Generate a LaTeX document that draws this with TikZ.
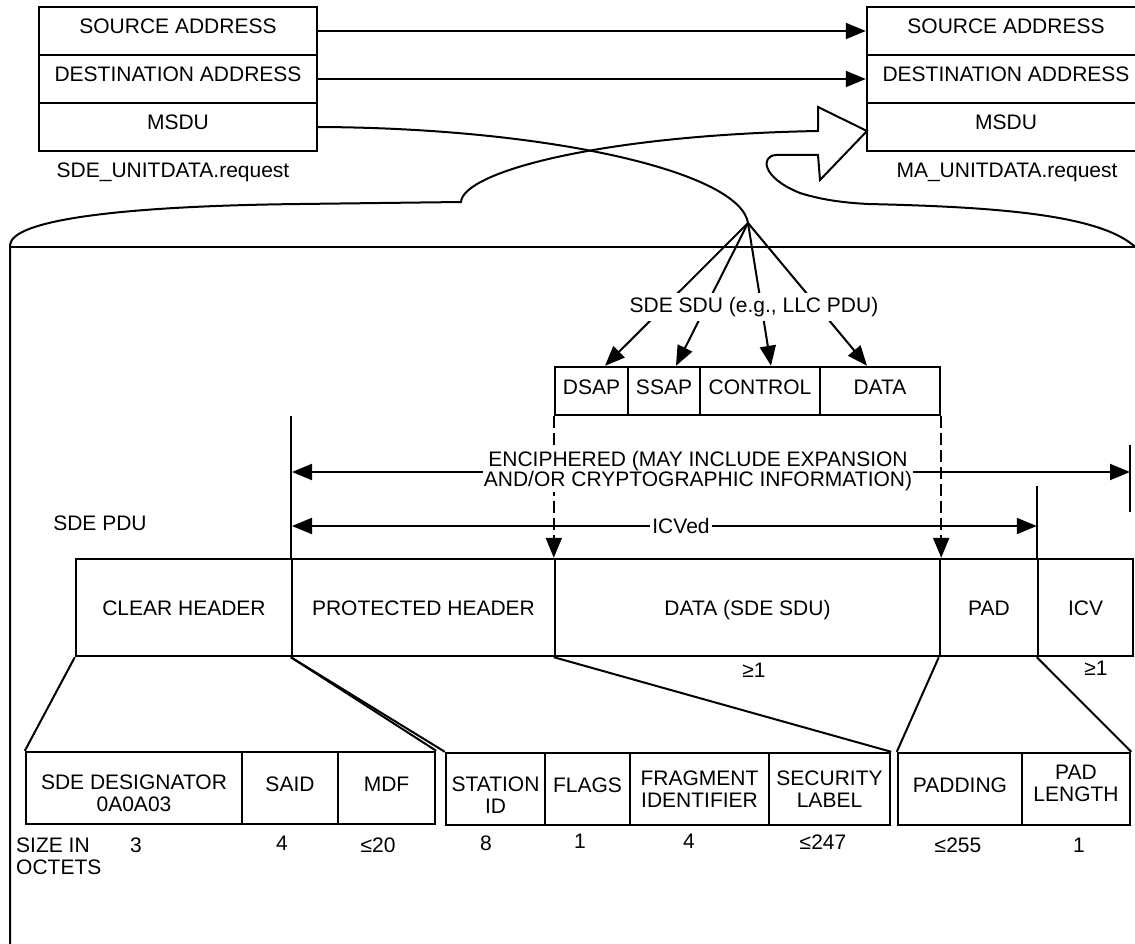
\documentclass[tikz,border=0pt]{standalone}
\usepackage{fontspec}
\setmainfont{Liberation Sans}
\usetikzlibrary{arrows.meta,calc}
\newcommand{\fs}{\fontsize{21}{22}\selectfont}
\begin{document}
\begin{tikzpicture}[x=1pt,y=-1pt,line join=miter,
  cell/.style={draw,line width=2.4pt,inner sep=0pt,align=center,font=\fs},
  up/.style={text height=15pt,text depth=9pt},
  mid/.style={text height=15pt,text depth=0pt},
  txt/.style={inner sep=0pt,font=\fs,align=center},
  ln/.style={line width=2pt},
  tip/.style={-{Triangle[length=20pt,width=16pt]}},
  dtip/.style={{Triangle[length=20pt,width=16pt]}-{Triangle[length=20pt,width=16pt]}},
  dsh/.style={line width=2pt,dash pattern=on 12pt off 5pt}]
\useasboundingbox (0,0) rectangle (1135,944);

% ---- service primitives
\node[cell,up,minimum width=278pt,minimum height=48pt] (sa1) at (178,31) {SOURCE ADDRESS};
\node[cell,up,minimum width=278pt,minimum height=48pt] (da1) at (178,79) {DESTINATION ADDRESS};
\node[cell,up,minimum width=278pt,minimum height=48pt] (ms1) at (178,127) {MSDU};
\node[cell,up,minimum width=278pt,minimum height=48pt] (sa2) at (1006,31) {SOURCE ADDRESS};
\node[cell,up,minimum width=278pt,minimum height=48pt] (da2) at (1006,79) {DESTINATION ADDRESS};
\node[cell,up,minimum width=278pt,minimum height=48pt] (ms2) at (1006,127) {MSDU};
\node[txt,mid] (req1) at (173,170) {SDE\_UNITDATA.request};
\node[txt,mid] (req2) at (1007,170) {MA\_UNITDATA.request};

\draw[ln,tip] (sa1.east) -- (sa2.west);
\draw[ln,tip] (da1.east) -- (da2.west);

% ---- brace / hollow arrow
\draw[ln] (10,944) -- (10,245)
  .. controls (12,220) and (120,206) .. (300,204) -- (461,202)
  .. controls (463,172) and (600,135) .. (818,131)
  -- (818,107) -- (867,131) -- (820,180) -- (818,155) -- (776,155)
  .. controls (760,156) and (762,178) .. (800,193)
  .. controls (825,201) and (850,203) .. (868,204)
  .. controls (1000,207) and (1110,215) .. (1140,252);
\draw[ln] (10,247) -- (1140,247);

% ---- MSDU curve to fan point
\coordinate (fan) at (748,223);
\draw[ln] (ms1.east) .. controls (550,128) and (740,172) .. (fan);

% ---- LLC PDU
\node[cell,up,minimum width=73pt,minimum height=48pt] (dsap) at (591.5,391) {DSAP};
\node[cell,up,minimum width=72pt,minimum height=48pt] (ssap) at (664,391) {SSAP};
\node[cell,up,minimum width=120pt,minimum height=48pt] (ctrl) at (760,391) {CONTROL};
\node[cell,up,minimum width=120pt,minimum height=48pt] (llcdata) at (880,391) {DATA};

\draw[ln,tip] (fan) -- ([xshift=13.5pt]dsap.north);
\draw[ln,tip] (fan) -- ([xshift=12pt]ssap.north);
\draw[ln,tip] (fan) -- ([xshift=11pt]ctrl.north);
\draw[ln,tip] (fan) -- ([xshift=-13pt]llcdata.north);
\node[txt,fill=white,inner xsep=2pt,inner ysep=4pt] (sdu) at (754,307) {SDE SDU (e.g., LLC PDU)};

% ---- SDE PDU
\node[cell,mid,minimum width=216pt,minimum height=97pt] (clear) at (184,607.5) {CLEAR HEADER};
\node[cell,mid,minimum width=263pt,minimum height=97pt] (prot) at (423.5,607.5) {PROTECTED HEADER};
\node[cell,mid,minimum width=385pt,minimum height=97pt] (data) at (747.5,607.5) {DATA (SDE SDU)};
\node[cell,mid,minimum width=98pt,minimum height=97pt] (pad) at (989,607.5) {PAD};
\node[cell,mid,minimum width=95pt,minimum height=97pt] (icv) at (1085.5,607.5) {ICV};

\node[txt,mid] (sdepdu) at (100,523) {SDE PDU};

\draw[ln] (prot.north west) -- (prot.north west |- dsap.south);
\draw[ln] (icv.north west) -- ++(0,-72);
\coordinate (tickT) at (1130,445);
\coordinate (tickB) at (1130,512);
\draw[ln] (tickT) -- (tickB);

\draw[dsh,tip] (dsap.south west) -- (data.north west);
\draw[dsh,tip] (llcdata.south east) -- (data.north east);

\coordinate (encL) at (292,472);
\coordinate (encR) at (1130,472);
\draw[ln,dtip] (encL) -- (encR);
\node[txt,fill=white,inner sep=1pt,font=\fontsize{21}{20}\selectfont] (enc) at (698,471)
  {ENCIPHERED (MAY INCLUDE EXPANSION\\AND/OR CRYPTOGRAPHIC INFORMATION)};

\coordinate (icvL) at (292,526);
\draw[ln,dtip] (icvL) -- (icvL -| icv.north west);
\node[txt,mid,fill=white,inner xsep=2pt,inner ysep=2pt] (icvd) at (681,526) {ICVed};

\node[txt,mid] (ge1) at (754,670) {≥1};
\node[txt,mid] (ge2) at (1096,668) {≥1};

% ---- expanded fields
\node[cell,minimum width=216pt,minimum height=72pt] (desig) at (134,788) {\rule{0pt}{25pt}SDE DESIGNATOR\\0A0A03};
\node[cell,up,minimum width=96pt,minimum height=72pt] (said) at (290,788) {SAID};
\node[cell,up,minimum width=97pt,minimum height=72pt] (mdf) at (386.5,788) {MDF};

\node[cell,minimum width=99pt,minimum height=72pt] (stat) at (495.5,789) {\rule{0pt}{27pt}STATION\\ID};
\node[cell,up,minimum width=85pt,minimum height=72pt] (flags) at (587.5,789) {FLAGS};
\node[cell,minimum width=139pt,minimum height=72pt] (frag) at (699.5,789) {FRAGMENT\\IDENTIFIER};
\node[cell,minimum width=121pt,minimum height=72pt] (sec) at (829.5,789) {SECURITY\\LABEL};

\node[cell,up,minimum width=124pt,minimum height=72pt] (padding) at (960,789) {PADDING};
\node[cell,minimum width=108pt,minimum height=72pt] (padlen) at (1076,789) {PAD\\LENGTH\rule[-11pt]{0pt}{11pt}};

\draw[ln] (clear.south west) -- (desig.north west);
\draw[ln] (prot.south west) -- (mdf.north east);
\draw[ln] (prot.south west) -- (stat.north west);
\draw[ln] (data.south west) -- (sec.north east);
\draw[ln] (pad.south west) -- (padding.north west);
\draw[ln] (icv.south west) -- (padlen.north east);

% ---- sizes
\node[txt,align=left,anchor=north west] (size) at (16,837.5) {SIZE IN\\OCTETS};
\node[txt,mid] (n1) at (136,845) {3};
\node[txt,mid] (n2) at (282,843) {4};
\node[txt,mid] (n3) at (378,845) {≤20};
\node[txt,mid] (n4) at (486,843) {8};
\node[txt,mid] (n5) at (580,841) {1};
\node[txt,mid] (n6) at (689,841) {4};
\node[txt,mid] (n7) at (823,842) {≤247};
\node[txt,mid] (n8) at (958,845) {≤255};
\node[txt,mid] (n9) at (1079,845) {1};
\end{tikzpicture}
\end{document}
